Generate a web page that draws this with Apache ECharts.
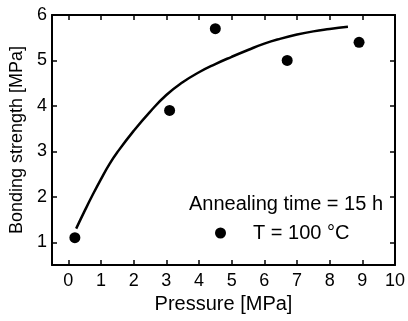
<!DOCTYPE html>
<html><head><meta charset="utf-8">
<script src="https://cdn.jsdelivr.net/npm/echarts@6/dist/echarts.min.js"></script>
<style>html,body{margin:0;padding:0;background:#fff}#c{width:408px;height:321px}</style>
</head><body><div id="c"></div>
<script>
const pressure = [0.2, 3.1, 4.5, 6.7, 8.9];
const strength = [1.1, 3.9, 5.7, 5.0, 5.4];
const fitX = [0.24, 0.5, 0.75, 1.0, 1.25, 1.5, 2.0, 2.5, 3.0, 3.5, 4.0, 4.5, 5.0, 5.5, 6.0, 6.5, 7.0, 7.5, 8.0, 8.56];
const fitY = [1.30, 1.69, 2.05, 2.39, 2.71, 2.98, 3.45, 3.87, 4.24, 4.52, 4.74, 4.92, 5.08, 5.23, 5.37, 5.48, 5.57, 5.64, 5.69, 5.74];
const xTicks = [0,1,2,3,4,5,6,7,8,9,10];
const yTicks = [1,2,3,4,5,6];

const font = 'Liberation Sans, Arial, Helvetica, sans-serif';
const chart = echarts.init(document.getElementById('c'));
const axLine = {show:true, onZero:false, lineStyle:{color:'#000', width:2}};
const tk = (vals) => ({show:true, inside:true, length:5, customValues:vals, lineStyle:{color:'#000', width:1.5}});
chart.setOption({
  animation:false,
  grid:{left:52, right:13, top:15, bottom:56},
  xAxis:[{
    type:'value', min:-0.5, max:10,
    axisLine:axLine, axisTick:tk(xTicks), splitLine:{show:false},
    axisLabel:{margin:7, fontSize:18, color:'#000', fontFamily:font,
      customValues: xTicks, formatter:v=>String(v)},
    name:'Pressure [MPa]', nameLocation:'middle', nameGap:29,
    nameTextStyle:{fontSize:20, color:'#000', fontFamily:font}
  },{
    type:'value', position:'top', min:-0.5, max:10,
    axisLine:axLine, axisTick:tk(xTicks),
    axisLabel:{show:false}, splitLine:{show:false}
  }],
  yAxis:[{
    type:'value', min:0.5, max:6,
    axisLine:axLine, splitLine:{show:false},
    axisTick:tk(yTicks),
    axisLabel:{margin:5, fontSize:18, color:'#000', fontFamily:font,
      customValues: yTicks, formatter:v=>String(v)},
    name:'Bonding strength [MPa]', nameLocation:'middle', nameGap:24,
    nameTextStyle:{fontSize:18, color:'#000', fontFamily:font}
  },{
    type:'value', position:'right', min:0.5, max:6,
    axisLine:axLine, splitLine:{show:false},
    axisTick:tk(yTicks),
    axisLabel:{show:false}
  }],
  legend:{
    data:[{name:'T = 100 °C', icon:'circle'}],
    left:210, top:218, itemWidth:11, itemHeight:11, itemGap:0,
    textStyle:{fontSize:20, color:'#000', fontFamily:font, padding:[0,0,0,22]}
  },
  graphic:[{
    type:'text', left:189, top:194,
    style:{text:'Annealing time = 15 h', fill:'#000', font:'20px '+font}
  }],
  series:[{
    name:'fit', type:'line', smooth:0.5, showSymbol:false, symbol:'none',
    data:fitX.map((x,i)=>[x,fitY[i]]),
    lineStyle:{color:'#000', width:2.5}, z:2
  },{
    name:'T = 100 °C', type:'scatter', symbol:'circle', symbolSize:11,
    data:pressure.map((x,i)=>[x,strength[i]]),
    itemStyle:{color:'#000', opacity:1}, z:3
  }]
});
</script></body></html>
